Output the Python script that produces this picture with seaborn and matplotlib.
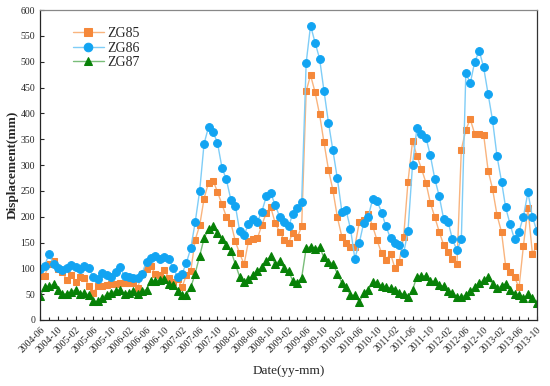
import matplotlib
matplotlib.use("Agg")
import matplotlib.pyplot as plt
import matplotlib.dates as mdates
import seaborn as sns
import pandas as pd

# monthly readings, 2004-06 .. 2013-10
dates = pd.date_range("2004-06-01", "2013-10-01", freq="MS")

zg85 = [85, 85, 108, 115, 98, 92, 78, 88, 73, 84, 82, 66, 53, 65, 66, 68,
        69, 70, 71, 72, 72, 72, 62, 89, 99, 104, 89, 88, 97, 82, 73, 79,
        64, 87, 95, 155, 183, 235, 266, 270, 248, 224, 200, 188, 152, 129, 108, 153, 157,
        158, 184, 208, 218, 187, 171, 155, 150, 169, 160, 181, 443, 474, 441, 398, 344,
        291, 252, 199, 161, 150, 141, 142, 190, 194, 205, 181, 154, 129, 116, 128, 100, 112, 161, 268,
        346, 318, 293, 266, 227, 199, 171, 145, 131, 119, 108, 330,
        368, 389, 360, 361, 359, 289, 254, 203, 170, 105, 92, 83, 63, 143, 217, 128, 143]

zg86 = [98, 105, 128, 108, 101, 96, 100, 107, 102, 98, 105, 100, 84, 80, 91, 87,
        84, 93, 102, 85, 84, 82, 81, 90, 113, 120, 124, 119, 122, 118, 101, 83,
        90, 110, 139, 189, 250, 341, 374, 364, 343, 295, 272, 233, 221, 173, 165, 185, 195,
        190, 210, 240, 245, 222, 200, 190, 181, 206, 217, 229, 498, 570, 537, 506, 444,
        382, 329, 274, 210, 213, 177, 119, 150, 188, 200, 235, 230, 208, 181, 158, 150, 146, 129, 173,
        300, 371, 360, 353, 319, 273, 240, 195, 189, 156, 135, 156,
        479, 458, 500, 521, 489, 437, 387, 317, 268, 218, 185, 156, 171, 200, 247, 200, 172]

zg87 = [47, 63, 66, 69, 59, 50, 51, 55, 58, 50, 52, 48, 36, 36, 43, 49,
        52, 56, 58, 51, 53, 57, 51, 56, 59, 75, 76, 78, 79, 70, 67, 57,
        48, 48, 63, 90, 124, 158, 176, 181, 168, 156, 145, 134, 108, 84, 74, 79, 87,
        94, 103, 115, 124, 108, 115, 100, 94, 76, 72, 82, 139, 142, 137, 141, 121,
        113, 109, 90, 72, 64, 48, 48, 35, 52, 58, 74, 72, 66, 63, 62, 59, 53, 50, 44,
        58, 84, 85, 86, 75, 75, 67, 66, 56, 52, 45, 45,
        48, 56, 64, 71, 77, 83, 69, 61, 66, 70, 58, 51, 48, 42, 50, 42, 33]

series = ["ZG85", "ZG86", "ZG87"]

df = pd.DataFrame({"date": dates, "ZG85": zg85, "ZG86": zg86, "ZG87": zg87})
long = df.melt(id_vars="date", var_name="point", value_name="disp")

sns.set_style("ticks")
plt.rcParams["font.family"] = ["Liberation Serif", "DejaVu Serif"]

fig = plt.figure(figsize=(5.5, 3.86), dpi=100)
ax = fig.add_axes([0.073, 0.171, 0.903, 0.803])

marker_col = {"ZG85": "#f5883a", "ZG86": "#12a4f2", "ZG87": "#078107"}
line_col = {"ZG85": "#f9b47e", "ZG86": "#7fcdf7", "ZG87": "#79bd79"}
markers = {"ZG85": "s", "ZG86": "o", "ZG87": "^"}
msize = {"ZG85": 5.0, "ZG86": 5.6, "ZG87": 5.8}

sns.lineplot(data=long, x="date", y="disp", hue="point", style="point",
             markers=markers, dashes=False, hue_order=series, style_order=series,
             palette=line_col, legend=False, ax=ax, linewidth=1)

for ln, name in zip(ax.lines, series):
    ln.set_color(line_col[name])
    ln.set_markerfacecolor(marker_col[name])
    ln.set_markeredgecolor(marker_col[name])
    ln.set_markersize(msize[name])
    ln.set_label(name)

ax.legend(handles=ax.lines[:3], labels=series, loc="upper left",
          bbox_to_anchor=(0.04, 0.985), frameon=False, fontsize=10,
          handlelength=2.3, handletextpad=0.2, labelspacing=0.1, markerscale=1.1)

ax.set_xlim(pd.Timestamp("2004-06-01"), pd.Timestamp("2013-10-01"))
ax.set_ylim(0, 600)
ax.set_yticks(range(0, 601, 50))
ax.xaxis.set_major_locator(mdates.MonthLocator(bymonth=[2, 6, 10]))
ax.xaxis.set_minor_locator(mdates.MonthLocator(bymonth=[4, 8, 12]))
ax.xaxis.set_major_formatter(mdates.DateFormatter("%Y-%m"))

ax.tick_params(axis="both", which="both", direction="in", labelsize=7, length=3, width=0.8)
ax.tick_params(axis="x", which="minor", length=2)
ax.tick_params(top=False, right=False)
plt.setp(ax.get_xticklabels(), rotation=45, ha="right", rotation_mode="anchor")

for side in ["left", "bottom", "right", "top"]:
    ax.spines[side].set_visible(True)
    ax.spines[side].set_linewidth(0.9)
ax.spines["top"].set_color("#888888")
ax.spines["right"].set_color("#333333")

ax.set_xlabel("Date(yy-mm)", fontsize=9.5, labelpad=8)
ax.set_ylabel("Displacement(mm)", fontsize=9.5, fontweight="bold", labelpad=1)

fig.savefig("out.png", dpi=100)
